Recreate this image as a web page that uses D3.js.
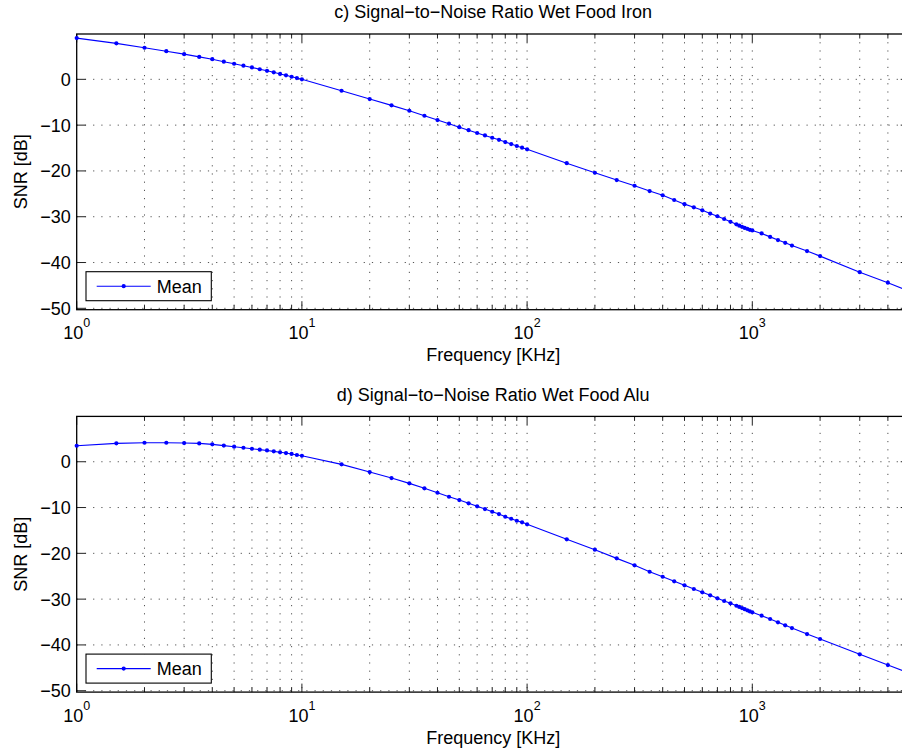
<!DOCTYPE html>
<html>
<head>
<meta charset="utf-8">
<script src="https://cdn.jsdelivr.net/npm/d3@7"></script>
<style>
  html, body { margin: 0; padding: 0; background: #fff; }
  svg { display: block; }
  text { font-family: "Liberation Sans", Arial, Helvetica, sans-serif; fill: #000; }
</style>
</head>
<body>
<svg id="chart" width="902" height="753"></svg>
<script>
// ---------------- data ----------------
const freqKHz = [
  1, 1.5, 2, 2.5, 3, 3.5, 4, 4.5, 5, 5.5, 6, 6.5, 7, 7.5, 8, 8.5, 9, 9.5,
  10, 15, 20, 25, 30, 35, 40, 45, 50, 55, 60, 65, 70, 75, 80, 85, 90, 95,
  100, 150, 200, 250, 300, 350, 400, 450, 500, 550, 600, 650, 700, 750, 800,
  850, 875, 900, 925, 950, 975, 1000,
  1100, 1200, 1300, 1400, 1500, 1750, 2000, 3000, 4000, 5000
];
const snrIron = [
  9.0, 7.86, 6.9, 6.15, 5.5, 4.9, 4.4, 3.85, 3.4, 2.98, 2.6, 2.2, 1.87, 1.53, 1.18, 0.88, 0.57, 0.28,
  0.0, -2.49, -4.3, -5.68, -6.86, -7.95, -8.89, -9.69, -10.45, -11.1, -11.72, -12.25, -12.75, -13.2, -13.69, -14.13, -14.56, -14.93,
  -15.28, -18.3, -20.4, -22.0, -23.23, -24.39, -25.33, -26.35, -27.25, -27.95, -28.6, -29.3, -29.9, -30.5, -31.1,
  -31.65, -31.95, -32.2, -32.45, -32.65, -32.85, -33.0,
  -33.65, -34.4, -35.1, -35.7, -36.3, -37.5, -38.6, -42.1, -44.4, -46.3
];
const snrAlu = [
  3.49, 4.02, 4.15, 4.15, 4.08, 4.0, 3.8, 3.52, 3.28, 3.06, 2.84, 2.64, 2.47, 2.27, 2.06, 1.9, 1.7, 1.47,
  1.31, -0.57, -2.25, -3.56, -4.72, -5.81, -6.77, -7.64, -8.36, -9.08, -9.74, -10.33, -10.92, -11.42, -12.01, -12.45, -12.88, -13.23,
  -13.67, -16.94, -19.21, -21.1, -22.62, -24.02, -25.11, -26.11, -26.99, -27.79, -28.52, -29.17, -29.83, -30.41, -30.92,
  -31.44, -31.7, -31.95, -32.2, -32.45, -32.68, -32.88,
  -33.62, -34.34, -35.07, -35.72, -36.31, -37.62, -38.71, -42.05, -44.39, -46.2
];
const yTickValues = [0, -10, -20, -30, -40, -50];
const xDomain = [1, 5000];
const yDomain = [-50.3, 9.9];
const panelTitles = [
  "c) Signal\u2212to\u2212Noise Ratio Wet Food Iron",
  "d) Signal\u2212to\u2212Noise Ratio Wet Food Alu"
];
const seriesName = "Mean";
const xLabelText = "Frequency [KHz]";
const yLabelText = "SNR [dB]";

// ---------------- layout ----------------
const FONT = 18;
const left = 76.7;
const decade = 225.2;
const right = left + decade * Math.log10(xDomain[1]);
const panels = [
  { top: 34.0, bottom: 309.7, values: snrIron, title: panelTitles[0] },
  { top: 416.4, bottom: 692.1, values: snrAlu, title: panelTitles[1] }
];

const svg = d3.select("#chart");
const blue = "#0000ff";

panels.forEach((p, pi) => {
  const g = svg.append("g");
  const x = d3.scaleLog().domain(xDomain).range([left, right]);
  const y = d3.scaleLinear().domain(yDomain).range([p.bottom, p.top]);

  const xTicks = x.ticks();
  const isMajor = v => Math.abs(Math.log10(v) - Math.round(Math.log10(v))) < 1e-9;

  // grid (dotted)
  const grid = g.append("g")
    .attr("stroke", "#000").attr("stroke-width", 0.9)
    .attr("stroke-dasharray", "1.2 7").attr("opacity", 0.75);
  xTicks.filter(v => v > xDomain[0] && v < xDomain[1]).forEach(v => {
    grid.append("line")
      .attr("x1", x(v)).attr("x2", x(v))
      .attr("y1", p.top).attr("y2", p.bottom);
  });
  yTickValues.forEach(v => {
    grid.append("line")
      .attr("x1", left).attr("x2", right)
      .attr("y1", y(v)).attr("y2", y(v));
  });

  // ticks (inward, on all sides)
  const ticks = g.append("g").attr("stroke", "#222").attr("stroke-width", 1);
  xTicks.forEach(v => {
    const len = isMajor(v) ? 8.5 : 4.5;
    ticks.append("line").attr("x1", x(v)).attr("x2", x(v))
      .attr("y1", p.bottom).attr("y2", p.bottom - len);
    ticks.append("line").attr("x1", x(v)).attr("x2", x(v))
      .attr("y1", p.top).attr("y2", p.top + len);
  });
  yTickValues.forEach(v => {
    ticks.append("line").attr("x1", left).attr("x2", left + 9)
      .attr("y1", y(v)).attr("y2", y(v));
    ticks.append("line").attr("x1", right).attr("x2", right - 9)
      .attr("y1", y(v)).attr("y2", y(v));
  });

  // box
  g.append("rect")
    .attr("x", left).attr("y", p.top)
    .attr("width", right - left).attr("height", p.bottom - p.top)
    .attr("fill", "none").attr("stroke", "#000").attr("stroke-width", 1.3);

  // data line + markers
  const pts = freqKHz.map((f, i) => [f, p.values[i]]);
  const line = d3.line().x(d => x(d[0])).y(d => y(d[1]));
  g.append("path").datum(pts)
    .attr("d", line).attr("fill", "none")
    .attr("stroke", blue).attr("stroke-width", 1.1);
  g.append("g").selectAll("circle").data(pts).join("circle")
    .attr("cx", d => x(d[0])).attr("cy", d => y(d[1]))
    .attr("r", 2.1).attr("fill", blue);

  // y tick labels
  yTickValues.forEach(v => {
    g.append("text")
      .attr("x", left - 6).attr("y", y(v)).attr("dy", "0.36em")
      .attr("text-anchor", "end").attr("font-size", FONT)
      .text(v < 0 ? "\u2212" + Math.abs(v) : String(v));
  });

  // x tick labels (10^k)
  xTicks.filter(isMajor).forEach(v => {
    const t = g.append("text")
      .attr("x", x(v)).attr("y", p.bottom + 29.5)
      .attr("text-anchor", "middle").attr("font-size", FONT);
    t.append("tspan").text("10");
    t.append("tspan").attr("dy", -12).attr("font-size", 12.5)
      .text(String(Math.round(Math.log10(v))));
  });

  // title
  g.append("text")
    .attr("x", (left + right) / 2).attr("y", p.top - 15.7)
    .attr("text-anchor", "middle").attr("font-size", FONT)
    .text(p.title);

  // x label
  g.append("text")
    .attr("x", (left + right) / 2).attr("y", p.bottom + 51.5)
    .attr("text-anchor", "middle").attr("font-size", FONT)
    .text(xLabelText);

  // y label
  const yc = (p.top + p.bottom) / 2;
  g.append("text")
    .attr("transform", `translate(27,${yc}) rotate(-90)`)
    .attr("text-anchor", "middle").attr("font-size", FONT)
    .text(yLabelText);

  // legend
  const lx = 86, ly = p.top + 237.7, lw = 125.3, lh = 29;
  const lg = g.append("g");
  lg.append("rect").attr("x", lx).attr("y", ly).attr("width", lw).attr("height", lh)
    .attr("fill", "#fff").attr("stroke", "#000").attr("stroke-width", 1.1);
  lg.append("line").attr("x1", lx + 10.7).attr("x2", lx + 64.7)
    .attr("y1", ly + lh / 2).attr("y2", ly + lh / 2)
    .attr("stroke", blue).attr("stroke-width", 1.1);
  lg.append("circle").attr("cx", lx + 37.7).attr("cy", ly + lh / 2)
    .attr("r", 2.1).attr("fill", blue);
  lg.append("text").attr("x", lx + 70.7).attr("y", ly + lh / 2).attr("dy", "0.36em")
    .attr("font-size", FONT).text(seriesName);
});
</script>
</body>
</html>
